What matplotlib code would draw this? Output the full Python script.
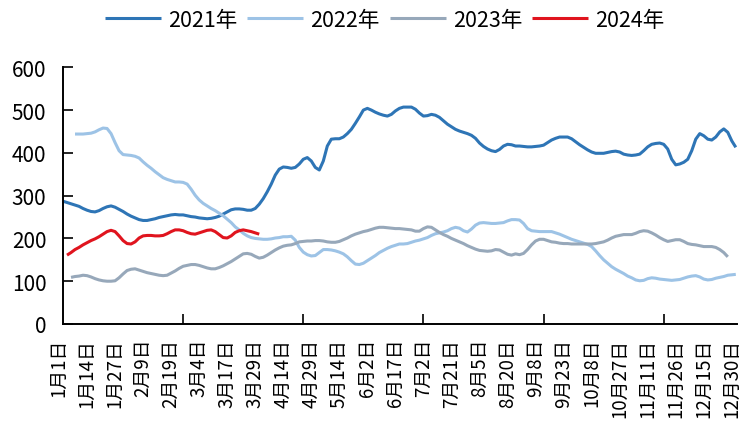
import numpy as np
import matplotlib
matplotlib.use("Agg")
import matplotlib.pyplot as plt
import matplotlib.transforms as mtransforms

plt.rcParams['font.family'] = ['Noto Sans CJK SC', 'DejaVu Sans']

# x-axis category labels (every 7th data point)
labels = ["1月1日", "1月14日", "1月27日", "2月9日", "2月19日", "3月4日", "3月17日", "3月29日",
          "4月14日", "4月29日", "5月14日", "6月2日", "6月17日", "7月2日", "7月21日", "8月5日",
          "8月20日", "9月8日", "9月23日", "10月8日", "10月27日", "11月11日", "11月26日",
          "12月15日", "12月30日"]
label_step = 7
tick_step = 30
n_points = 169

series_names = ["2021年", "2022年", "2023年", "2024年"]
series_start = [0, 3, 2, 1]

y2021 = [287, 284, 281, 278, 275, 270, 266, 263, 262, 265, 270, 274, 276, 273, 268, 263, 257, 252,
         248, 244, 242, 242, 244, 246, 249, 251, 253, 255, 256,
         255, 255, 253, 251, 250, 248, 247, 246, 247, 249, 252, 257, 262, 267, 269, 269, 268, 266,
         266, 270, 280, 293, 309, 327, 348, 362, 367, 366,
         364, 366, 374, 385, 389, 381, 366, 360, 381, 416, 432, 433, 433, 437, 445, 455, 469, 484,
         500, 504, 500, 495, 491, 488, 486, 490, 498, 504, 507,
         507, 507, 502, 493, 486, 487, 490, 488, 483, 475, 467, 461, 455, 451, 448, 445, 441, 434,
         423, 415, 409, 405, 403, 408, 416, 420, 419, 416,
         416, 415, 414, 414, 415, 416, 418, 424, 430, 434, 437, 437, 437, 433, 426, 419, 413, 407,
         402, 399, 399, 399, 401, 403, 404, 402, 397, 395, 394,
         395, 397, 405, 414, 420, 422, 423, 420, 409, 385, 372, 374, 378, 385, 405, 432, 445, 440,
         432, 430, 437, 449, 456, 448, 428, 413]

y2022 = [444, 444, 444, 445, 446, 449, 454, 458, 457, 445, 424, 405, 396, 395, 394, 392, 388, 379,
         371, 364, 356, 349, 342, 338, 335, 332,
         332, 331, 327, 315, 301, 290, 282, 276, 270, 265, 259, 253, 245, 237, 227, 220, 212, 206,
         202, 200, 199, 198, 198, 199, 201, 202, 204, 204,
         205, 196, 179, 168, 162, 159, 160, 167, 174, 174, 173, 171, 168, 164, 157, 148, 140, 139,
         142, 148, 154, 160, 167, 172, 177, 181, 184, 187, 187,
         188, 191, 194, 196, 199, 202, 207, 211, 213, 215, 218, 223, 226, 224, 218, 215, 222, 231,
         236, 237, 236, 235, 235, 236, 237, 241, 244, 244,
         243, 235, 223, 218, 217, 216, 216, 216, 216, 213, 210, 206, 202, 198, 195, 192, 189, 186,
         181, 171, 160, 150, 142, 134, 128, 123, 118, 112, 108,
         103, 101, 102, 106, 108, 107, 105, 104, 103, 102, 103, 104, 107, 110, 112, 113, 110, 105,
         103, 104, 107, 109, 111, 114, 115, 116]

y2023 = [109, 111, 112, 114, 113, 110, 106, 103, 101, 100, 100, 101, 108, 117, 125, 128, 129, 126,
         123, 120, 118, 116, 114, 113, 114, 119, 124,
         130, 135, 137, 139, 139, 137, 134, 131, 129, 129, 132, 136, 141, 146, 152, 158, 164, 165,
         163, 158, 154, 156, 161, 167, 173, 178, 182, 184,
         185, 188, 192, 193, 194, 194, 195, 195, 194, 192, 191, 191, 193, 197, 201, 206, 210, 213,
         216, 218, 221, 224, 226, 226, 225, 224, 223, 223, 222,
         221, 220, 217, 217, 223, 227, 226, 220, 214, 209, 205, 200, 196, 192, 188, 183, 179, 175,
         172, 171, 170, 171, 174, 173, 168, 163, 161, 164,
         162, 165, 174, 185, 194, 198, 198, 195, 192, 191, 189, 188, 188, 187, 187, 187, 187, 187,
         187, 188, 190, 192, 196, 201, 205, 207, 209, 209, 209,
         212, 216, 218, 217, 213, 208, 202, 197, 193, 195, 197, 197, 193, 188, 186, 185, 183, 181,
         181, 181, 179, 174, 167, 157]

y2024 = [161, 167, 174, 179, 185, 190, 195, 199, 204, 210, 216, 219, 216, 206, 195, 188, 187, 192,
         201, 206, 207, 207, 206, 206, 207, 211, 216, 220,
         220, 218, 214, 211, 210, 213, 216, 219, 220, 216, 209, 202, 201, 206, 214, 218, 220, 218,
         216, 213, 210]

colors = ["#2E75B6", "#9DC3E6", "#97A8BA", "#E0141E"]

fig = plt.figure(figsize=(7.44, 4.35), dpi=100)
ax = fig.add_axes([63 / 744, 1 - 325 / 435, (737 - 63) / 744, (325 - 68.3) / 435])

all_series = [y2021, y2022, y2023, y2024]
for name, start, vals, c in zip(series_names, series_start, all_series, colors):
    x = np.arange(start, start + len(vals))
    ax.plot(x, vals, color=c, lw=2.2, label=name, solid_capstyle='butt')

ax.set_ylim(0, 600)
ax.set_yticks(np.arange(0, 601, 100))
ax.set_xlim(0, n_points - 1 + 0.3)

ax.set_xticks(np.arange(tick_step, n_points, tick_step))
ax.set_xticklabels([])
ax.set_xticks(np.arange(0, n_points, label_step), labels, minor=True)
ax.tick_params(axis='x', which='major', direction='in', length=7, width=1.2)
ax.tick_params(axis='x', which='minor', length=0, pad=10, labelsize=13.5, labelrotation=90)
ax.tick_params(axis='y', direction='in', length=7, width=1.2, labelsize=15, pad=12)

shift = mtransforms.ScaledTranslation(-3 / 72, 0, fig.dpi_scale_trans)
for lbl in ax.get_xticklabels(minor=True):
    lbl.set_transform(lbl.get_transform() + shift)

for s in ['top', 'right']:
    ax.spines[s].set_visible(False)
for s in ['left', 'bottom']:
    ax.spines[s].set_linewidth(1.4)
    ax.spines[s].set_color('black')

fig.legend(loc='center', bbox_to_anchor=(0.517, 0.952), ncol=4, frameon=False,
           fontsize=15.5, handlelength=2.6, handletextpad=0.33, columnspacing=0.47)

fig.savefig("out.png", dpi=100)
